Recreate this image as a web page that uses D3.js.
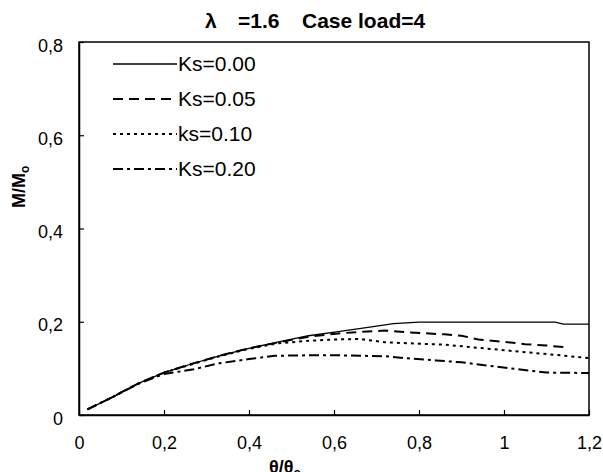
<!DOCTYPE html>
<html>
<head>
<meta charset="utf-8">
<script src="https://cdn.jsdelivr.net/npm/d3@7"></script>
<style>
  body { margin: 0; background: #fff; }
  svg { font-family: "Liberation Sans", Arial, sans-serif; }
</style>
</head>
<body>
<div id="chart"></div>
<script>
// chart data
var xTicks = [0, 0.2, 0.4, 0.6, 0.8, 1, 1.2];
var yTicks = [0, 0.2, 0.4, 0.6, 0.8];

var theta00 = [0.02, 0.08, 0.14, 0.2, 0.27, 0.33, 0.4, 0.47, 0.54, 0.61, 0.68, 0.74, 0.8, 1.12, 1.14, 1.2];
var ks00 = [0.012, 0.039, 0.068, 0.091, 0.111, 0.127, 0.143, 0.157, 0.170, 0.179, 0.188, 0.196, 0.199, 0.199, 0.195, 0.195];

var theta05 = [0.02, 0.08, 0.14, 0.2, 0.27, 0.33, 0.4, 0.47, 0.54, 0.61, 0.66, 0.72, 0.78, 0.86, 0.9, 0.94, 1.0, 1.05, 1.1, 1.15];
var ks05 = [0.012, 0.039, 0.068, 0.091, 0.111, 0.127, 0.143, 0.156, 0.168, 0.175, 0.178, 0.181, 0.177, 0.173, 0.170, 0.162, 0.157, 0.152, 0.149, 0.145];

var theta10 = [0.02, 0.08, 0.14, 0.2, 0.27, 0.33, 0.4, 0.47, 0.54, 0.6, 0.66, 0.72, 0.8, 0.86, 0.94, 1.0, 1.06, 1.12, 1.2];
var ks10 = [0.012, 0.039, 0.068, 0.091, 0.110, 0.126, 0.142, 0.154, 0.159, 0.162, 0.163, 0.156, 0.153, 0.151, 0.144, 0.139, 0.134, 0.129, 0.122];

var theta20 = [0.02, 0.08, 0.14, 0.2, 0.27, 0.33, 0.4, 0.46, 0.54, 0.61, 0.72, 0.78, 0.84, 0.9, 0.98, 1.06, 1.1, 1.2];
var ks20 = [0.012, 0.039, 0.067, 0.088, 0.098, 0.111, 0.120, 0.127, 0.128, 0.128, 0.126, 0.121, 0.117, 0.113, 0.104, 0.095, 0.091, 0.090];

var seriesNames = ["Ks=0.00", "Ks=0.05", "ks=0.10", "Ks=0.20"];

var width = 603;
var height = 472;
var plotLeft = 79, plotRight = 589, plotTop = 42, plotBottom = 415;

var svg = d3.select("#chart")
  .append("svg")
  .attr("width", width)
  .attr("height", height);

var xScale = d3.scaleLinear().domain([0, 1.2]).range([plotLeft, plotRight]);
var yScale = d3.scaleLinear().domain([0, 0.8]).range([plotBottom, plotTop]);

var fmt = function(d) { return String(d).replace(".", ","); };

// frame
svg.append("rect")
  .attr("x", plotLeft).attr("y", plotTop)
  .attr("width", plotRight - plotLeft).attr("height", plotBottom - plotTop)
  .attr("fill", "none").attr("stroke", "#000").attr("stroke-width", 1.5);

// axes, ticks pointing inward
var xAxis = d3.axisBottom(xScale).tickValues(xTicks).tickSizeInner(-5).tickSizeOuter(0).tickPadding(21).tickFormat(fmt);
var yAxis = d3.axisLeft(yScale).tickValues(yTicks).tickSizeInner(-5).tickSizeOuter(0).tickPadding(16).tickFormat(fmt);

var gx = svg.append("g").attr("transform", "translate(0," + plotBottom + ")").call(xAxis);
var gy = svg.append("g").attr("transform", "translate(" + plotLeft + ",0)").call(yAxis);

[gx, gy].forEach(function(g) {
  g.select(".domain").attr("stroke", "#000").attr("stroke-width", 1.5);
  g.selectAll(".tick line").attr("stroke", "#000").attr("stroke-width", 1.2);
  g.selectAll(".tick text")
    .attr("font-family", "Liberation Sans, Arial, sans-serif")
    .attr("font-size", 18).attr("fill", "#000");
});
gy.selectAll(".tick text").attr("dy", "0.5em");

// lines
var series = [
  { name: seriesNames[0], x: theta00, y: ks00, dash: null },
  { name: seriesNames[1], x: theta05, y: ks05, dash: "10,6" },
  { name: seriesNames[2], x: theta10, y: ks10, dash: "3,4" },
  { name: seriesNames[3], x: theta20, y: ks20, dash: "10,4,3,4" }
];

var line = d3.line()
  .x(function(d) { return xScale(d[0]); })
  .y(function(d) { return yScale(d[1]); });

series.forEach(function(s) {
  var pts = s.x.map(function(t, i) { return [t, s.y[i]]; });
  svg.append("path")
    .datum(pts)
    .attr("d", line)
    .attr("fill", "none")
    .attr("stroke", "#000")
    .attr("stroke-width", s.dash ? 2 : 1.3)
    .attr("stroke-dasharray", s.dash);
});

// legend
var legend = svg.append("g");
series.forEach(function(s, i) {
  var ly = 64 + i * 35;
  legend.append("line")
    .attr("x1", 113).attr("x2", 177)
    .attr("y1", ly).attr("y2", ly)
    .attr("stroke", "#000")
    .attr("stroke-width", s.dash ? 2 : 1.3)
    .attr("stroke-dasharray", s.dash);
  legend.append("text")
    .attr("x", 178).attr("y", ly + 7)
    .attr("font-size", 21)
    .text(s.name);
});

// title
var title = svg.append("text")
  .attr("x", 205).attr("y", 28)
  .attr("font-size", 21).attr("font-weight", "bold");
title.append("tspan").text("\u03bb");
title.append("tspan").attr("x", 238).text("=1.6");
title.append("tspan").attr("x", 302).text("Case load=4");

// axis titles
var xt = svg.append("text")
  .attr("x", 269).attr("y", 473)
  .attr("font-size", 18).attr("font-weight", "bold");
xt.append("tspan").text("\u03b8/\u03b8");
xt.append("tspan").attr("dy", 4).attr("font-size", 12).text("o");

var yt = svg.append("text")
  .attr("transform", "translate(25,208) rotate(-90)")
  .attr("font-size", 18).attr("font-weight", "bold");
yt.append("tspan").text("M/M");
yt.append("tspan").attr("dy", 4).attr("font-size", 12).text("o");
</script>
</body>
</html>
